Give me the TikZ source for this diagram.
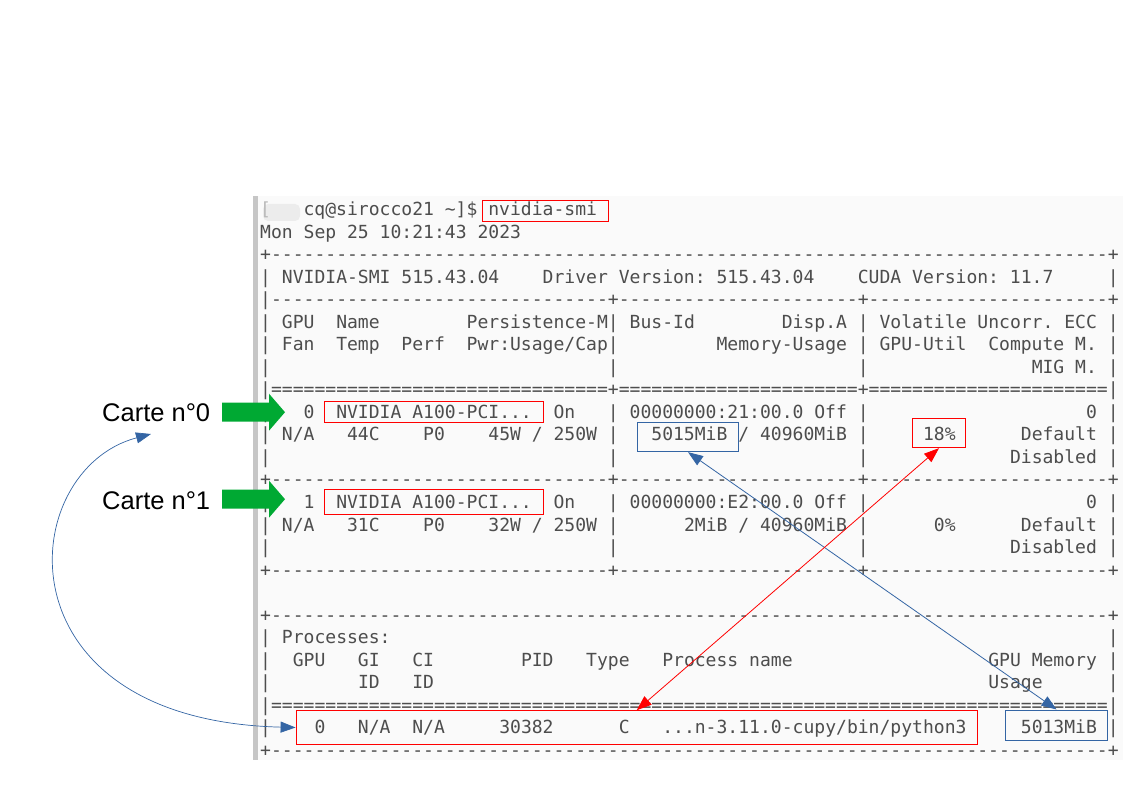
\documentclass[tikz,border=0pt]{standalone}
\usepackage{fontspec}
\setmonofont{DejaVu Sans Mono}
\newfontfamily\cartefont{Liberation Sans}
\usetikzlibrary{arrows.meta}
\definecolor{termgray}{RGB}{77,77,77}
\definecolor{termbg}{RGB}{250,250,250}
\definecolor{annblue}{RGB}{52,101,164}
\definecolor{annred}{RGB}{255,0,0}
\definecolor{cartegreen}{RGB}{0,169,51}
\ExplSyntaxOn
\cs_new:Npn \rpt #1#2 { \prg_replicate:nn {#1} {#2} }
\ExplSyntaxOff
\newcommand\ws[1]{\rpt{#1}{\ }}
\newcommand\termfont{\ttfamily\fontsize{18.05}{22}\selectfont\frenchspacing}
\begin{document}
\begin{tikzpicture}[x=1pt,y=-1pt,
  term/.style={anchor=base west,inner sep=0pt,font=\termfont,text=termgray},
  carte/.style={anchor=base west,inner sep=0pt,font=\cartefont\fontsize{25.5}{30}\selectfont},
  redbox/.style={draw=annred,line width=0.9pt,inner sep=0pt},
  bluebox/.style={draw=annblue,line width=0.9pt,inner sep=0pt},
  link/.style={line width=0.8pt,>={Triangle[length=15pt,width=11pt]},<->}]
  \useasboundingbox (0,0) rectangle (1123,794);
  % terminal window
  \fill[termbg] (253,196) rectangle (1123,760);
  \fill[gray!45] (253,196) rectangle (257.5,760);
  \fill[gray!15,rounded corners=5pt] (263,204) rectangle (300,221);
  \node[term,text=gray!55] (r0a) at (260,215.5) {[};
  \node[term] (r0) at (303.4,215.5) {cq@sirocco21 \textasciitilde]\$ nvidia-smi};
  \node[term] (r1) at (260,238.04) {Mon Sep 25 10:21:43 2023};
  \node[term] (r2) at (260,260.58) {+\rpt{77}{-}+};
  \node[term] (r3) at (260,283.12) {| NVIDIA-SMI 515.43.04\ws{4}Driver Version: 515.43.04\ws{4}CUDA Version: 11.7\ws{5}|};
  \node[term] (r4) at (260,305.66) {|\rpt{31}{-}+\rpt{22}{-}+\rpt{22}{-}+};
  \node[term] (r5) at (260,328.2) {| GPU\ws{2}Name\ws{8}Persistence-M| Bus-Id\ws{8}Disp.A | Volatile Uncorr. ECC |};
  \node[term] (r6) at (260,350.74) {| Fan\ws{2}Temp\ws{2}Perf\ws{2}Pwr:Usage/Cap|\ws{9}Memory-Usage | GPU-Util\ws{2}Compute M. |};
  \node[term] (r7) at (260,373.28) {|\ws{31}|\ws{22}|\ws{15}MIG M. |};
  \node[term] (r8) at (260,395.82) {|\rpt{31}{=}+\rpt{22}{=}+\rpt{22}{=}|};
  \node[term] (r9) at (260,418.36) {|\ws{3}0\ws{2}NVIDIA A100-PCI...\ws{2}On\ws{3}| 00000000:21:00.0 Off |\ws{20}0 |};
  \node[term] (r10) at (260,440.9) {| N/A\ws{3}44C\ws{4}P0\ws{4}45W / 250W |\ws{3}5015MiB / 40960MiB |\ws{5}18\%\ws{6}Default |};
  \node[term] (r11) at (260,463.44) {|\ws{31}|\ws{22}|\ws{13}Disabled |};
  \node[term] (r12) at (260,485.98) {+\rpt{31}{-}+\rpt{22}{-}+\rpt{22}{-}+};
  \node[term] (r13) at (260,508.52) {|\ws{3}1\ws{2}NVIDIA A100-PCI...\ws{2}On\ws{3}| 00000000:E2:00.0 Off |\ws{20}0 |};
  \node[term] (r14) at (260,531.06) {| N/A\ws{3}31C\ws{4}P0\ws{4}32W / 250W |\ws{6}2MiB / 40960MiB |\ws{6}0\%\ws{6}Default |};
  \node[term] (r15) at (260,553.6) {|\ws{31}|\ws{22}|\ws{13}Disabled |};
  \node[term] (r16) at (260,576.14) {+\rpt{31}{-}+\rpt{22}{-}+\rpt{22}{-}+};
  \node[term] (r18) at (260,621.22) {+\rpt{77}{-}+};
  \node[term] (r19) at (260,643.76) {| Processes:\ws{66}|};
  \node[term] (r20) at (260,666.3) {|\ws{2}GPU\ws{3}GI\ws{3}CI\ws{8}PID\ws{3}Type\ws{3}Process name\ws{18}GPU Memory |};
  \node[term] (r21) at (260,688.84) {|\ws{8}ID\ws{3}ID\ws{51}Usage\ws{6}|};
  \node[term] (r22) at (260,711.38) {|\rpt{77}{=}|};
  \node[term] (r23) at (260,733.92) {|\ws{4}0\ws{3}N/A\ws{2}N/A\ws{5}30382\ws{6}C\ws{3}...n-3.11.0-cupy/bin/python3\ws{5}5013MiB |};
  \node[term] (r24) at (260,756.46) {+\rpt{77}{-}+};
  % highlights
  \node[redbox,minimum width=126,minimum height=20.3] (cmd) at (545.3,210.9) {};
  \node[redbox,minimum width=219.3,minimum height=21.7] (name0) at (433.7,411.9) {};
  \node[redbox,minimum width=219.3,minimum height=25] (name1) at (433.7,501.8) {};
  \node[bluebox,minimum width=101.4,minimum height=29.4] (used0) at (688,437) {};
  \node[redbox,minimum width=53.4,minimum height=29.4] (util0) at (939,433) {};
  \node[redbox,minimum width=681.3,minimum height=33.6] (proc) at (636.7,727.5) {};
  \node[bluebox,minimum width=102.4,minimum height=30.7] (used) at (1056.5,725.3) {};
  % cards
  \node[carte] (c0) at (102,421) {Carte n°0};
  \node[carte] (c1) at (102,509.3) {Carte n°1};
  \foreach \y in {412.2,499.2}
    \fill[cartegreen] (222,\y-9.5) -- (269,\y-9.5) -- (269,\y-18.5) -- (285,\y)
      -- (269,\y+18.5) -- (269,\y+9.5) -- (222,\y+9.5) -- cycle;
  % links
  \draw[link,annblue] (used0.south) -- (used.north);
  \draw[link,annred] (util0.south) -- (proc.north);
  \coordinate (c0tip) at (151,434);
  \draw[link,annblue,line width=0.7pt] (proc.west) .. controls (-5,720) and (15,470) .. (c0tip);
\end{tikzpicture}
\end{document}
